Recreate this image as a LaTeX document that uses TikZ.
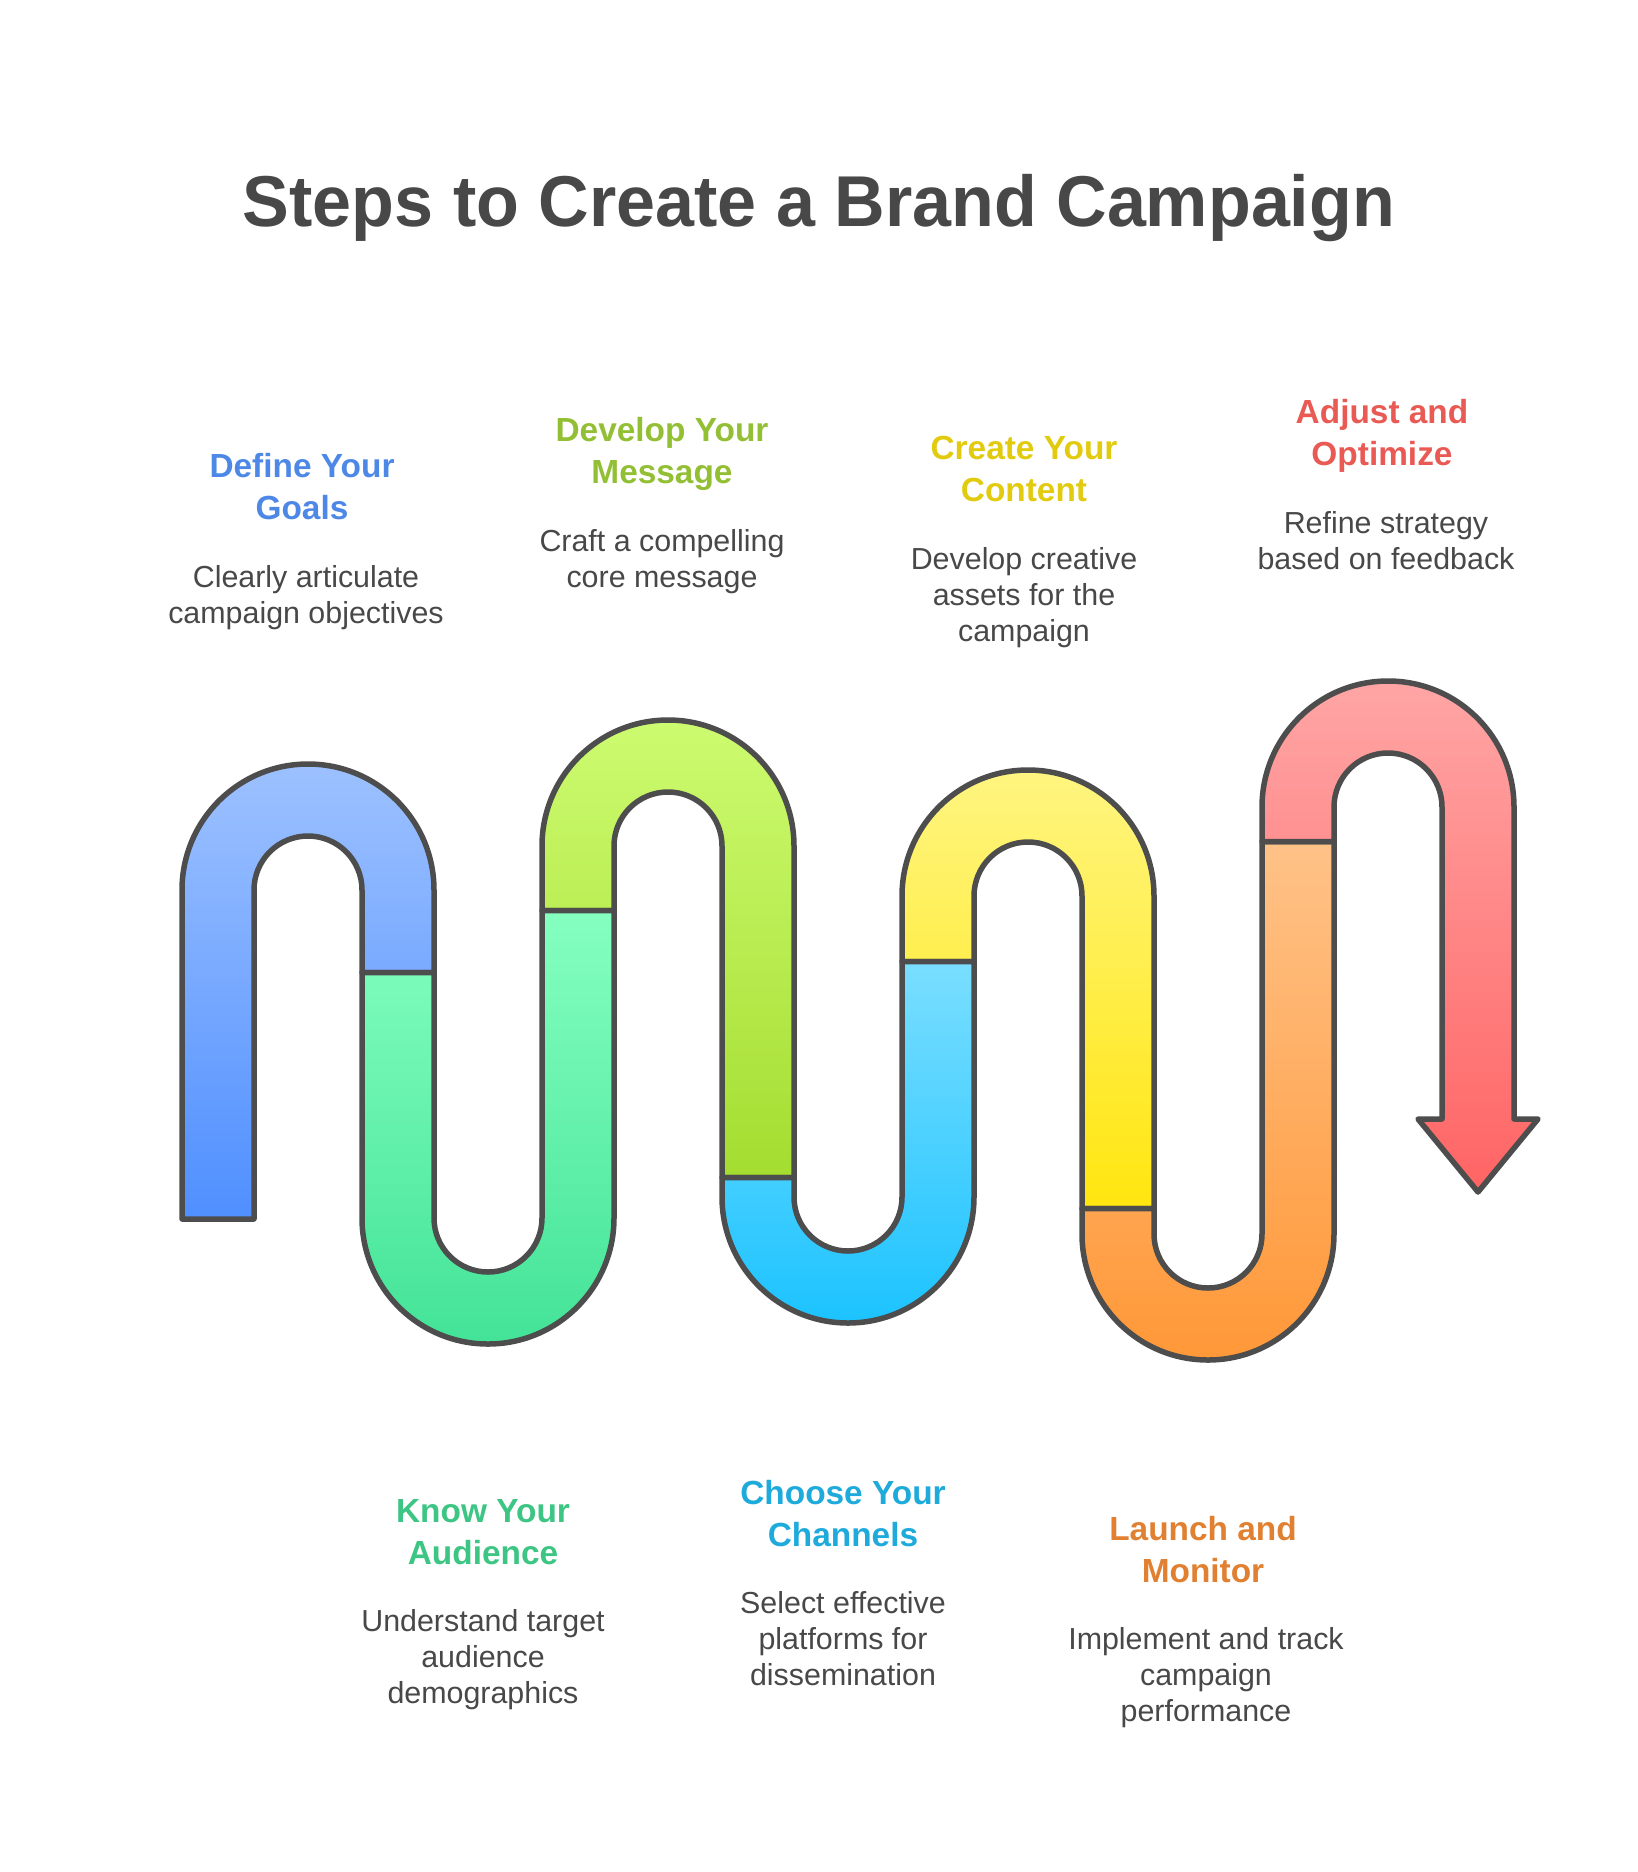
\documentclass[tikz,border=0pt]{standalone}
\usepackage{fontspec}
\usepackage{xcolor}
\setmainfont{Liberation Sans}
\definecolor{inkgrey}{HTML}{4D4D4D}
\definecolor{textgrey}{HTML}{484848}
\definecolor{goaltop}{HTML}{9DC1FF}
\definecolor{goalbot}{HTML}{4F8FFF}
\definecolor{audtop}{HTML}{85FFC0}
\definecolor{audbot}{HTML}{43E397}
\definecolor{msgtop}{HTML}{CDFB70}
\definecolor{msgbot}{HTML}{A4DD30}
\definecolor{chantop}{HTML}{7ADEFF}
\definecolor{chanbot}{HTML}{1CC3FF}
\definecolor{conttop}{HTML}{FFF580}
\definecolor{contbot}{HTML}{FFE60F}
\definecolor{launtop}{HTML}{FFC288}
\definecolor{launbot}{HTML}{FF9838}
\definecolor{opttop}{HTML}{FFA5A5}
\definecolor{optbot}{HTML}{FF6464}
\definecolor{goalhead}{HTML}{4E88E7}
\definecolor{audhead}{HTML}{3CC583}
\definecolor{msghead}{HTML}{93BF35}
\definecolor{chanhead}{HTML}{1EAADB}
\definecolor{conthead}{HTML}{E2CB0F}
\definecolor{launhead}{HTML}{E08030}
\definecolor{opthead}{HTML}{E95A55}
\tikzset{
  band/.style={draw=inkgrey,line width=5.5pt,line join=round},
  heading/.style={align=center,inner sep=0pt,font=\fontsize{33.4}{42}\selectfont\bfseries},
  blurb/.style={align=center,inner sep=0pt,text=textgrey,font=\fontsize{30.4}{36}\selectfont}
}

\begin{document}
\begin{tikzpicture}[x=1pt,y=1pt]
    \useasboundingbox (0,-1872) rectangle (1638,0);

    % Title
    \node[inner sep=0pt,text=textgrey,font=\fontsize{72}{80}\selectfont\bfseries\addfontfeature{FakeStretch=0.973}] (title) at (819,-208) {Steps to Create a Brand Campaign};

    % Arches on top
    \draw[band,top color=goaltop,bottom color=goalbot] (182,-1219) -- (182,-890) arc[start angle=180,end angle=0,radius=126] -- (434,-972.5) -- (362,-972.5) -- (362,-890) arc[start angle=0,end angle=180,radius=54] -- (254,-1219) -- cycle;
    \draw[band,top color=msgtop,bottom color=msgbot] (542,-910.5) -- (542,-846) arc[start angle=180,end angle=0,radius=126] -- (794,-1177.5) -- (722,-1177.5) -- (722,-846) arc[start angle=0,end angle=180,radius=54] -- (614,-910.5) -- cycle;
    \draw[band,top color=conttop,bottom color=contbot] (902,-961.5) -- (902,-896) arc[start angle=180,end angle=0,radius=126] -- (1154,-1208.5) -- (1082,-1208.5) -- (1082,-896) arc[start angle=0,end angle=180,radius=54] -- (974,-961.5) -- cycle;

    % Bends on bottom
    \draw[band,top color=audtop,bottom color=audbot] (362,-972.5) -- (362,-1218) arc[start angle=180,end angle=360,radius=126] -- (614,-910.5) -- (542,-910.5) -- (542,-1218) arc[start angle=0,end angle=-180,radius=54] -- (434,-972.5) -- cycle;
    \draw[band,top color=chantop,bottom color=chanbot] (722,-1177.5) -- (722,-1197) arc[start angle=180,end angle=360,radius=126] -- (974,-961.5) -- (902,-961.5) -- (902,-1197) arc[start angle=0,end angle=-180,radius=54] -- (794,-1177.5) -- cycle;
    \draw[band,top color=launtop,bottom color=launbot] (1082,-1208.5) -- (1082,-1234) arc[start angle=180,end angle=360,radius=126] -- (1334,-841.5) -- (1262,-841.5) -- (1262,-1234) arc[start angle=0,end angle=-180,radius=54] -- (1154,-1208.5) -- cycle;

    % Last arch with the arrow head
    \draw[band,top color=opttop,bottom color=optbot] (1262,-841.5) -- (1262,-807) arc[start angle=180,end angle=0,radius=126] -- (1514,-1119) -- (1538,-1119) -- (1478,-1192) -- (1418,-1119) -- (1442,-1119) -- (1442,-807) arc[start angle=0,end angle=180,radius=54] -- (1334,-841.5) -- cycle;

    % Upper labels
    \node[heading,text=goalhead] (goalhead) at (302,-487) {Define Your\\Goals};
    \node[blurb] (goaltext) at (306,-598) {Clearly articulate\\campaign objectives};
    \node[heading,text=msghead] (msghead) at (662,-454) {Develop Your\\Message};
    \node[blurb] (msgtext) at (662,-562) {Craft a compelling\\core message};
    \node[heading,text=conthead] (conthead) at (1024,-469) {Create Your\\Content};
    \node[blurb] (conttext) at (1024,-598) {Develop creative\\assets for the\\campaign};
    \node[heading,text=opthead] (opthead) at (1382,-436) {Adjust and\\Optimize};
    \node[blurb] (opttext) at (1386,-541) {Refine strategy\\based on feedback};

    % Lower labels
    \node[heading,text=audhead] (audhead) at (483,-1532) {Know Your\\Audience};
    \node[blurb] (audtext) at (483,-1660) {Understand target\\audience\\demographics};
    \node[heading,text=chanhead] (chanhead) at (843,-1514) {Choose Your\\Channels};
    \node[blurb] (chantext) at (843,-1639) {Select effective\\platforms for\\dissemination};
    \node[heading,text=launhead] (launhead) at (1203,-1550) {Launch and\\Monitor};
    \node[blurb] (launtext) at (1206,-1678) {Implement and track\\campaign\\performance};
\end{tikzpicture}
\end{document}
